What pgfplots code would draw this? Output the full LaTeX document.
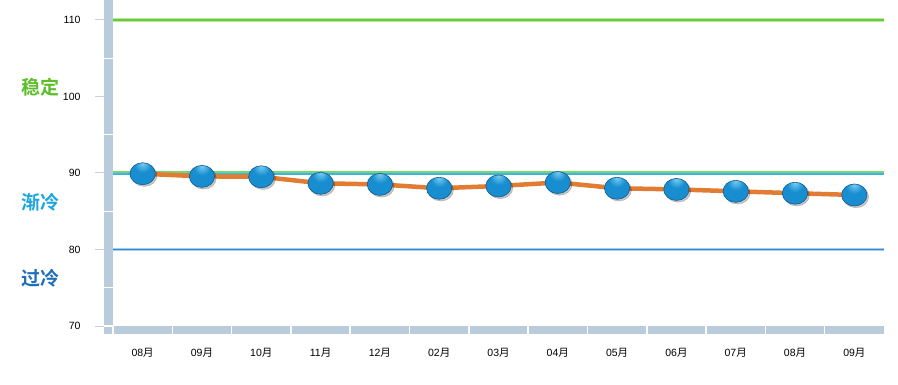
\documentclass[border=0pt]{standalone}
\usepackage{fontspec}
\setmainfont{Liberation Sans}
\newfontfamily\cjk{Noto Sans CJK SC}
\newfontfamily\cjkb{Noto Sans CJK SC Bold}
\usepackage{pgfplots}
\pgfplotsset{compat=1.18}
\definecolor{bandcol}{RGB}{186,203,220}
\definecolor{okgreen}{RGB}{102,204,51}
\definecolor{midgreen}{RGB}{120,214,110}
\definecolor{midcyan}{RGB}{60,180,230}
\definecolor{lowblue}{RGB}{50,140,215}
\definecolor{lineorange}{RGB}{226,124,50}
\definecolor{marktop}{RGB}{120,205,242}
\definecolor{markmid}{RGB}{24,142,208}
\definecolor{markbot}{RGB}{8,104,168}
\definecolor{markedge}{RGB}{18,90,145}
\definecolor{lblgreen}{RGB}{92,190,42}
\definecolor{lblcyan}{RGB}{28,166,224}
\definecolor{lbldark}{RGB}{30,110,185}
\definecolor{tickgray}{RGB}{200,208,216}
\pgfdeclareradialshading{myball}{\pgfpoint{0bp}{24bp}}{color(0bp)=(marktop); color(16bp)=(markmid); color(45bp)=(markmid); color(70bp)=(markbot); color(76bp)=(markbot)}
\pgfdeclareplotmark{myball}{%
  \pgfpathellipse{\pgfpointorigin}{\pgfqpoint{1.15\pgfplotmarksize}{0pt}}{\pgfqpoint{0pt}{\pgfplotmarksize}}%
  \pgfshadepath{myball}{0}%
  \pgfusepath{stroke}}
\begin{document}
\begin{tikzpicture}
\path[use as bounding box] (0,0) rectangle (898pt,384pt);
\begin{axis}[
  at={(113pt,58pt)}, anchor=south west,
  scale only axis, width=771pt, height=326pt,
  xmin=-0.5, xmax=12.5, ymin=70, ymax=112.6,
  clip=false,
  axis line style={draw=none},
  tick style={draw=none},
  ytick={70,80,90,100,110},
  xtick={0,...,12},
  xticklabels={08{\cjk 月},09{\cjk 月},10{\cjk 月},11{\cjk 月},12{\cjk 月},02{\cjk 月},03{\cjk 月},04{\cjk 月},05{\cjk 月},06{\cjk 月},07{\cjk 月},08{\cjk 月},09{\cjk 月}},
  /pgf/number format/assume math mode=true,
  yticklabel style={font=\fontsize{10.5}{12}\selectfont, anchor=east, xshift=-29pt},
  xticklabel style={font=\fontsize{10.5}{12}\selectfont, anchor=center, yshift=-27pt},
]
% bands
\fill[bandcol] ([xshift=-9pt]axis cs:-0.5,112.6) rectangle ([yshift=-8pt]axis cs:-0.5,70);
\fill[bandcol] ([yshift=-8pt]axis cs:-0.5,70) rectangle (axis cs:12.5,70);
\pgfplotsinvokeforeach{-0.5,0.5,1.5,2.5,3.5,4.5,5.5,6.5,7.5,8.5,9.5,10.5,11.5}{
  \draw[white, line width=1.6pt] ([yshift=-8pt]axis cs:#1,70) -- (axis cs:#1,70);
}
\pgfplotsinvokeforeach{75,85,95,105}{
  \draw[white, line width=1.2pt] ([xshift=-9pt]axis cs:-0.5,#1) -- (axis cs:-0.5,#1);
}
\draw[white, line width=1.2pt] ([xshift=-9pt]axis cs:-0.5,70) -- (axis cs:-0.5,70);
\pgfplotsinvokeforeach{70,80,90,100,110}{
  \draw[tickgray, line width=1pt] ([xshift=-18pt]axis cs:-0.5,#1) -- ([xshift=-9pt]axis cs:-0.5,#1);
}
% reference lines
\addplot[okgreen!45, line width=4.5pt, forget plot] coordinates {(-0.5,110) (12.5,110)};
\addplot[okgreen, line width=2.2pt, forget plot] coordinates {(-0.5,110) (12.5,110)};
\addplot[midgreen, line width=2pt, forget plot] coordinates {(-0.5,90.12) (12.5,90.12)};
\addplot[midcyan, line width=1.6pt, forget plot] coordinates {(-0.5,89.85) (12.5,89.85)};
\addplot[lowblue!45, line width=3.5pt, forget plot] coordinates {(-0.5,80) (12.5,80)};
\addplot[lowblue, line width=1.6pt, forget plot] coordinates {(-0.5,80) (12.5,80)};
% data line
\addplot[lineorange, line width=4.5pt, forget plot] coordinates {
(0,89.9) (1,89.55) (2,89.5) (3,88.65) (4,88.5) (5,88.0) (6,88.3) (7,88.75) (8,88.0) (9,87.85) (10,87.6) (11,87.35) (12,87.12)};
% shadow
\addplot[only marks, mark=*, mark size=11pt, mark options={fill=black, draw=none, opacity=0.22, xscale=1.15, xshift=1.5pt, yshift=-1.8pt}, forget plot] coordinates {
(0,89.9) (1,89.55) (2,89.5) (3,88.65) (4,88.5) (5,88.0) (6,88.3) (7,88.75) (8,88.0) (9,87.85) (10,87.6) (11,87.35) (12,87.12)};
% markers
\addplot[only marks, mark=myball, mark size=11pt, mark options={draw=markedge, line width=0.6pt}] coordinates {
(0,89.9) (1,89.55) (2,89.5) (3,88.65) (4,88.5) (5,88.0) (6,88.3) (7,88.75) (8,88.0) (9,87.85) (10,87.6) (11,87.35) (12,87.12)};
\end{axis}
\node[font=\cjkb\fontsize{19}{20}\selectfont, text=lblgreen] at (40pt,297pt) {稳定};
\node[font=\cjkb\fontsize{19}{20}\selectfont, text=lblcyan] at (40pt,182pt) {渐冷};
\node[font=\cjkb\fontsize{19}{20}\selectfont, text=lbldark] at (40pt,106pt) {过冷};
\end{tikzpicture}
\end{document}
